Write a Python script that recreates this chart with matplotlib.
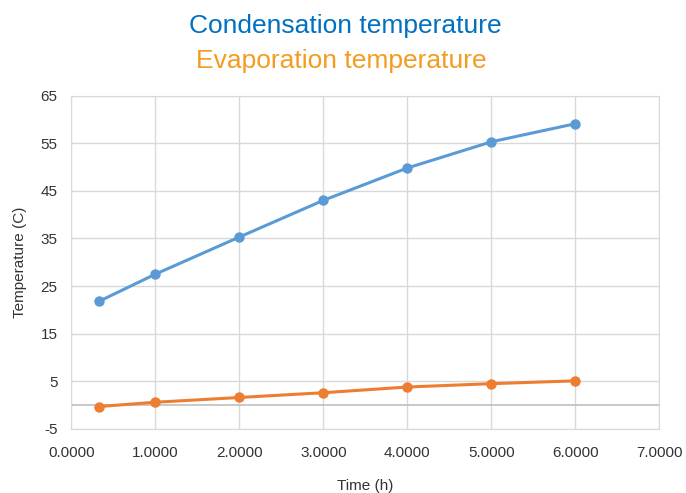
import matplotlib
matplotlib.use("Agg")
import matplotlib.pyplot as plt

# data
time_h = [0.33, 1.0, 2.0, 3.0, 4.0, 5.0, 6.0]
condensation = [21.8, 27.5, 35.3, 43.0, 49.8, 55.3, 59.1]
evaporation = [-0.3, 0.6, 1.6, 2.6, 3.8, 4.5, 5.1]

x_ticks = [0, 1, 2, 3, 4, 5, 6, 7]
y_ticks = [-5, 5, 15, 25, 35, 45, 55, 65]

plt.rcParams['font.family'] = ['Liberation Sans', 'DejaVu Sans']
plt.rcParams['axes.unicode_minus'] = False

fig = plt.figure(figsize=(6.86, 4.93), dpi=100)
ax = fig.add_axes([0.104, 0.130, 0.857, 0.676])

ax.plot(time_h, condensation, color='#5B9BD5', lw=2.2, marker='o', ms=6.5, zorder=3)
ax.plot(time_h, evaporation, color='#ED7D31', lw=2.2, marker='o', ms=6.5, zorder=3)

ax.set_xlim(0, 7)
ax.set_ylim(-5, 65)
ax.set_xticks(x_ticks)
ax.set_xticklabels(['%.4f' % t for t in x_ticks])
ax.set_yticks(y_ticks)

ax.grid(True, color='#D9D9D9', lw=1)
ax.axhline(0, color='#BFBFBF', lw=1.2, zorder=2)
for s in ax.spines.values():
    s.set_color('#D9D9D9')
ax.tick_params(length=0, labelsize=11, colors='#333333')
ax.tick_params(axis='x', pad=12)
ax.tick_params(axis='y', pad=10)

ax.set_xlabel('Time (h)', fontsize=11, color='#333333', labelpad=14)
ax.set_ylabel('Temperature (C)', fontsize=11, color='#333333', labelpad=10)

fig.text(0.503, 0.948, 'Condensation temperature', ha='center', va='center',
         fontsize=19, color='#0070C0')
fig.text(0.497, 0.876, 'Evaporation temperature', ha='center', va='center',
         fontsize=19, color='#F39C1F')

fig.savefig('out.png', dpi=100)
